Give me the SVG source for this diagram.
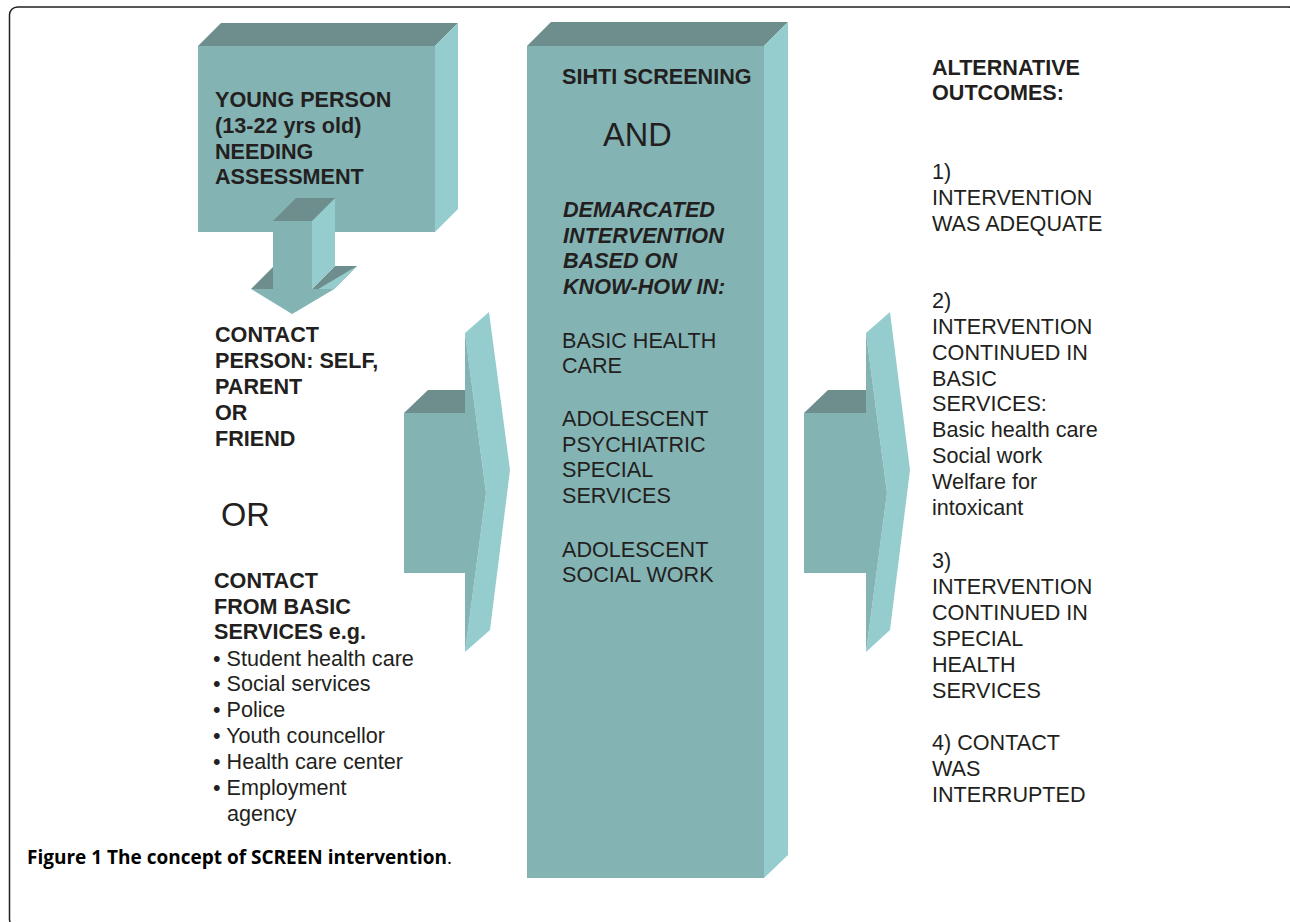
<svg xmlns="http://www.w3.org/2000/svg" width="1290" height="922" viewBox="0 0 1290 922">
<style>
.front{fill:#84b3b4}
.top{fill:#6e8e8e}
.side{fill:#95cdce}
text{font-family:"Liberation Sans",Arial,sans-serif;fill:#231f20}
.b{font-size:21.6px;font-weight:bold}
.bi{font-size:21.6px;font-weight:bold;font-style:italic}
.r{font-size:21.6px}
.cap{font-family:"Open Sans","DejaVu Sans",sans-serif;font-size:19px;font-weight:bold;fill:#000}
</style>
<rect x="9.5" y="7" width="1287" height="920" rx="8" fill="#fff" stroke="#231f20" stroke-width="1.5"/>

<g id="young-person">
<polygon class="top" points="198,46 221,23 458,23 435,46"/>
<polygon class="side" points="435,46 458,23 458,209 435,232"/>
<rect class="front" x="198" y="46" width="237" height="186"/>
<text class="b"><tspan x="215" y="107">YOUNG PERSON</tspan><tspan x="215" y="133">(13-22 yrs old)</tspan><tspan x="215" y="159">NEEDING</tspan><tspan x="215" y="184">ASSESSMENT</tspan></text>
</g>

<g id="connectors">
<g id="down-arrow">
<polygon class="top" points="251,289 274,266 296,266 273,289"/>
<polygon class="top" points="312,289 334,289 357,266 335,266"/>
<polygon class="side" points="312,221 335,198 335,266 312,289"/>
<polygon class="side" points="334,289 357,266 315,291 292,314"/>
<polygon class="front" points="273,221 312,221 312,289 334,289 292,314 251,289 273,289"/>
<polygon class="top" points="273,221 296,198 335,198 312,221"/>
</g>
<g id="left-arrow">
<polygon class="top" points="404,413 428,390 467,390 467,413"/>
<polygon class="side" points="465,333 489,312 510,470 490,630 465,652 486,493"/>
<polygon class="front" points="404,413 465,413 465,333 486,493 465,652 465,573 404,573"/>
</g>
<g id="right-arrow">
<polygon class="top" points="804,413 828,390 867,390 867,413"/>
<polygon class="side" points="866,333 890,312 910,470 890,630 866,652 887,493"/>
<polygon class="front" points="804,413 866,413 866,333 887,493 866,652 866,573 804,573"/>
</g>
</g>

<g id="contact-text">
<text class="b"><tspan x="215" y="342">CONTACT</tspan><tspan x="215" y="368">PERSON: SELF,</tspan><tspan x="215" y="394">PARENT</tspan><tspan x="215" y="420">OR</tspan><tspan x="215" y="446">FRIEND</tspan></text>
<text x="221" y="526" style="font-size:32.5px">OR</text>
<text class="b"><tspan x="214" y="588">CONTACT</tspan><tspan x="214" y="614">FROM BASIC</tspan><tspan x="214" y="639">SERVICES e.g.</tspan></text>
<text class="r"><tspan x="213" y="666">• Student health care</tspan><tspan x="213" y="691">• Social services</tspan><tspan x="213" y="717">• Police</tspan><tspan x="213" y="743">• Youth councellor</tspan><tspan x="213" y="769">• Health care center</tspan><tspan x="213" y="795">• Employment</tspan><tspan x="227" y="821">agency</tspan></text>
</g>

<g id="sihti-screening">
<polygon class="top" points="527,46 551,22 788,22 764,46"/>
<polygon class="side" points="764,46 788,22 788,855 764,878"/>
<rect class="front" x="527" y="46" width="237" height="832"/>
<text class="b" x="562" y="84">SIHTI SCREENING</text>
<text x="603" y="146" style="font-size:32.5px">AND</text>
<text class="bi"><tspan x="563" y="217">DEMARCATED</tspan><tspan x="563" y="243">INTERVENTION</tspan><tspan x="563" y="268">BASED ON</tspan><tspan x="563" y="294">KNOW-HOW IN:</tspan></text>
<text class="r"><tspan x="562" y="348">BASIC HEALTH</tspan><tspan x="562" y="373">CARE</tspan><tspan x="562" y="426">ADOLESCENT</tspan><tspan x="562" y="452">PSYCHIATRIC</tspan><tspan x="562" y="477">SPECIAL</tspan><tspan x="562" y="503">SERVICES</tspan><tspan x="562" y="557">ADOLESCENT</tspan><tspan x="562" y="582">SOCIAL WORK</tspan></text>
</g>

<g id="outcomes">
<text class="b"><tspan x="932" y="75">ALTERNATIVE</tspan><tspan x="932" y="100">OUTCOMES:</tspan></text>
<text class="r"><tspan x="932" y="179">1)</tspan><tspan x="932" y="205">INTERVENTION</tspan><tspan x="932" y="231">WAS ADEQUATE</tspan>
<tspan x="932" y="308">2)</tspan><tspan x="932" y="334">INTERVENTION</tspan><tspan x="932" y="360">CONTINUED IN</tspan><tspan x="932" y="386">BASIC</tspan><tspan x="932" y="411">SERVICES:</tspan><tspan x="932" y="437">Basic health care</tspan><tspan x="932" y="463">Social work</tspan><tspan x="932" y="489">Welfare for</tspan><tspan x="932" y="515">intoxicant</tspan>
<tspan x="932" y="568">3)</tspan><tspan x="932" y="594">INTERVENTION</tspan><tspan x="932" y="620">CONTINUED IN</tspan><tspan x="932" y="646">SPECIAL</tspan><tspan x="932" y="672">HEALTH</tspan><tspan x="932" y="698">SERVICES</tspan>
<tspan x="932" y="750">4) CONTACT</tspan><tspan x="932" y="776">WAS</tspan><tspan x="932" y="802">INTERRUPTED</tspan></text>
</g>

<text class="cap" x="27" y="864">Figure 1 The concept of SCREEN intervention<tspan style="font-weight:normal">.</tspan></text>
</svg>
